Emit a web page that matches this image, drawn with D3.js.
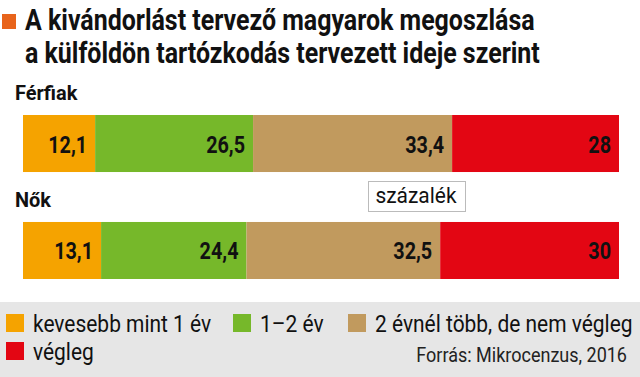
<!DOCTYPE html>
<html>
<head>
<meta charset="utf-8">
<script src="https://cdn.jsdelivr.net/npm/d3@7"></script>
<style>
  body { margin: 0; background: #fff; }
  text { font-family: Roboto, "Noto Sans", sans-serif; }
</style>
</head>
<body>
<div id="chart"></div>
<script>
// data
const groups = ["Férfiak", "Nők"];
const categories = ["kevesebb mint 1 év", "1–2 év", "2 évnél több, de nem végleg", "végleg"];
const keys = ["short", "oneTwo", "longer", "forever"];
const short = [12.1, 13.1];
const oneTwo = [26.5, 24.4];
const longer = [33.4, 32.5];
const forever = [28, 30];
const colors = ["#f5a300", "#76b82a", "#c19a5e", "#e30613"];

const width = 640, height = 377;
const margin = ({top: 115, right: 21, bottom: 98, left: 23});

const rows = groups.map((g, i) => ({group: g, short: short[i], oneTwo: oneTwo[i], longer: longer[i], forever: forever[i]}));

const svg = d3.select("#chart").append("svg")
    .attr("width", width).attr("height", height)
    .attr("viewBox", [0, 0, width, height]);

// squeeze text to look like a condensed face
function condense(sel, k) {
    sel.each(function() {
        const len = this.getComputedTextLength();
        d3.select(this).attr("textLength", len * k).attr("lengthAdjust", "spacingAndGlyphs");
    });
}

/* title */
svg.append("rect").attr("x", 2).attr("y", 14).attr("width", 14).attr("height", 15).attr("fill", "#e8641b");
svg.append("text").attr("x", 25).attr("y", 30)
    .attr("font-size", 29).attr("font-weight", 700).attr("fill", "#111")
    .text("A kivándorlást tervező magyarok megoszlása").call(condense, 0.86);
svg.append("text").attr("x", 25).attr("y", 63)
    .attr("font-size", 29).attr("font-weight", 700).attr("fill", "#111")
    .text("a külföldön tartózkodás tervezett ideje szerint").call(condense, 0.86);

/* scales */
const x = d3.scaleLinear().domain([0, 100]).range([margin.left, width - margin.right]);
const y = d3.scaleBand().domain(groups).range([margin.top, height - margin.bottom]).paddingInner(0.467);

const series = d3.stack().keys(keys)(rows);
const fmt = v => String(v).replace(".", ",");

const layer = svg.selectAll(".layer")
    .data(series)
    .join("g")
    .attr("class", "layer")
    .attr("fill", (d, i) => colors[i]);

layer.selectAll("rect")
    .data(d => d)
    .join("rect")
    .attr("x", d => x(d[0]))
    .attr("width", d => x(d[1]) - x(d[0]))
    .attr("y", d => y(d.data.group))
    .attr("height", y.bandwidth());

layer.selectAll("text")
    .data(d => d.map(v => ({v: v, val: v[1] - v[0]})))
    .join("text")
    .attr("x", d => x(d.v[1]) - 8)
    .attr("y", d => y(d.v.data.group) + y.bandwidth() / 2 + 9)
    .attr("text-anchor", "end")
    .attr("font-size", 23).attr("font-weight", 700).attr("fill", "#111")
    .text(d => fmt(+d.val.toFixed(1)))
    .call(condense, 0.86);

// group labels
svg.selectAll(".glabel")
    .data(groups)
    .join("text")
    .attr("class", "glabel")
    .attr("x", 15)
    .attr("y", d => y(d) - 15)
    .attr("font-size", 21).attr("font-weight", 700).attr("fill", "#111")
    .text(d => d)
    .call(condense, 0.95);

// unit box
svg.append("rect").attr("x", 368.5).attr("y", 181.5).attr("width", 97).attr("height", 30)
    .attr("fill", "#fff").attr("stroke", "#bbb");
svg.append("text").attr("x", 416).attr("y", 203).attr("text-anchor", "middle")
    .attr("font-size", 22).attr("fill", "#111").text("százalék").call(condense, 0.95);

/* legend */
svg.append("rect").attr("x", 0).attr("y", 302).attr("width", width).attr("height", height - 302).attr("fill", "#e6e6e6");

const legendPos = [[6, 314], [233, 314], [348, 314], [6, 342]];
const leg = svg.selectAll(".leg")
    .data(categories)
    .join("g")
    .attr("class", "leg")
    .attr("transform", (d, i) => `translate(${legendPos[i][0]},${legendPos[i][1]})`);
leg.append("rect").attr("width", 18).attr("height", 18).attr("fill", (d, i) => colors[i]);
leg.append("text").attr("x", 27).attr("y", 18)
    .attr("font-size", 23).attr("fill", "#111")
    .text(d => d)
    .call(condense, 0.91);

svg.append("text").attr("x", 627).attr("y", 362).attr("text-anchor", "end")
    .attr("font-size", 20).attr("fill", "#222")
    .text("Forrás: Mikrocenzus, 2016").call(condense, 0.9);
</script>
</body>
</html>
